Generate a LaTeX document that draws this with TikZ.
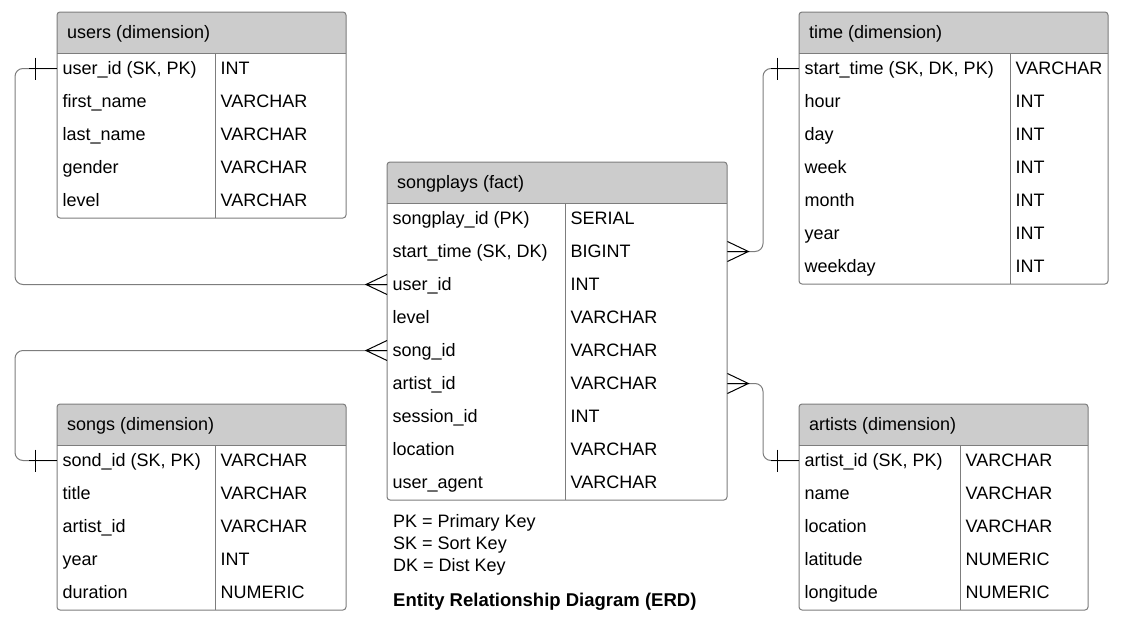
\documentclass[tikz,border=0pt]{standalone}
\usepackage{fontspec}
\setmainfont{Liberation Sans}
\usepackage{xcolor}

\definecolor{headgray}{RGB}{204,204,204}
\definecolor{erdgray}{RGB}{125,125,125}

\tikzset{
  erdline/.style={draw=erdgray, line width=1pt},
  link/.style={draw=erdgray, line width=1pt, rounded corners=8pt},
  erdtext/.style={inner ysep=0pt, text height=12.9pt, text depth=0pt,
    font=\fontsize{18}{21}\selectfont, anchor=west},
  erdhead/.style={erdtext, inner xsep=10pt},
  erdcell/.style={erdtext, inner xsep=5.5pt},
  legend/.style={erdtext, inner xsep=0pt},
  many/.pic={\draw[black, line width=1pt] (0,-10) -- (-21,0) -- (0,10) (-21,0) -- (0,0);},
  one/.pic={\draw[black, line width=1pt] (0,0) -- (-28,0) (-22,-11) -- (-22,11);}
}

% name, left, top, right, divider, title, rows
\newcommand{\erdtable}[7]{%
  \pgfmathsetmacro{\namew}{#5-#2-11}%
  \pgfmathsetmacro{\typew}{#4-#5-11}%
  \fill[headgray, rounded corners=3pt] (#2,#3) rectangle (#4,#3+45);
  \fill[white] (#2,#3+41) rectangle (#4,#3+46);
  \node[erdhead] (#1) at (#2,#3+20) {#6};
  \foreach \n/\t [count=\i] in {#7} {
    \node[erdcell] (#1-\i) at (#2,#3+40+33*\i-16.5) {\makebox[\namew pt][l]{\n}};
    \node[erdcell] (#1-\i-t) at (#5,#3+40+33*\i-16.5) {\makebox[\typew pt][l]{\t}};
    \xdef\nrows{\i}
  }
  \draw[erdline, rounded corners=3pt] (#2,#3) rectangle (#4,#3+41+33*\nrows);
  \draw[erdline] (#2,#3+41) -- (#4,#3+41);
  \draw[erdline] (#5,#3+41) -- (#5,#3+41+33*\nrows);
}

\begin{document}
\begin{tikzpicture}[x=1pt, y=-1pt]
        \useasboundingbox[fill=white] (0,0) rectangle (1123,629);
        \erdtable{users}{57}{12}{346}{215}{users (dimension)}{%
          {user\_id (SK, PK)}/INT, first\_name/VARCHAR, last\_name/VARCHAR,
          gender/VARCHAR, level/VARCHAR}
        \erdtable{time}{799}{12}{1108}{1010}{time (dimension)}{%
          {start\_time (SK, DK, PK)}/VARCHAR, hour/INT, day/INT, week/INT,
          month/INT, year/INT, weekday/INT}
        \erdtable{songplays}{387}{162}{727}{565}{songplays (fact)}{%
          {songplay\_id (PK)}/SERIAL, {start\_time (SK, DK)}/BIGINT, user\_id/INT,
          level/VARCHAR, song\_id/VARCHAR, artist\_id/VARCHAR, session\_id/INT,
          location/VARCHAR, user\_agent/VARCHAR}
        \erdtable{songs}{57}{404}{346}{215}{songs (dimension)}{%
          {sond\_id (SK, PK)}/VARCHAR, title/VARCHAR, artist\_id/VARCHAR,
          year/INT, duration/NUMERIC}
        \erdtable{artists}{799}{404}{1088}{960}{artists (dimension)}{%
          {artist\_id (SK, PK)}/VARCHAR, name/VARCHAR, location/VARCHAR,
          latitude/NUMERIC, longitude/NUMERIC}
        % relationships
        \draw[link] (users-1.west) -- ++(-42,0) |- (songplays-3.west);
        \draw[link] (songs-1.west) -- ++(-42,0) |- (songplays-5.west);
        \draw[link] (time-1.west) -- ++(-36,0) |- (songplays-2-t.east);
        \draw[link] (artists-1.west) -- ++(-36,0) |- (songplays-6-t.east);
        \pic at (users-1.west) {one};
        \pic at (songs-1.west) {one};
        \pic at (time-1.west) {one};
        \pic at (artists-1.west) {one};
        \pic at (songplays-3.west) {many};
        \pic at (songplays-5.west) {many};
        \pic[xscale=-1] at (songplays-2-t.east) {many};
        \pic[xscale=-1] at (songplays-6-t.east) {many};
        % legend
        \node[legend] (pk) at (393,521) {PK = Primary Key};
        \node[legend] (sk) at (393,543) {SK = Sort Key};
        \node[legend] (dk) at (393,565) {DK = Dist Key};
        \node[legend, font=\fontsize{18.5}{21}\selectfont\bfseries] (erd) at (393,600) {Entity Relationship Diagram (ERD)};
\end{tikzpicture}
\end{document}
